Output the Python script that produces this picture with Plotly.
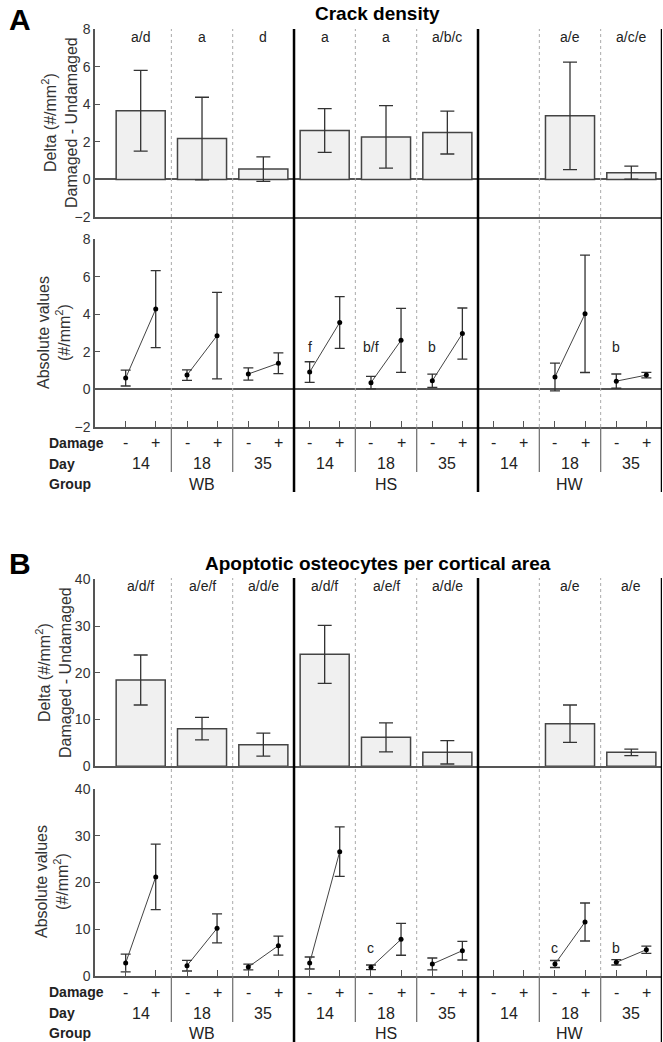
import plotly.graph_objects as go

# ---------------- data ----------------
slots = ["WB14", "WB18", "WB35", "HS14", "HS18", "HS35", "HW14", "HW18", "HW35"]
day_labels = ["14", "18", "35", "14", "18", "35", "14", "18", "35"]
group_labels = ["WB", "HS", "HW"]
damage_labels = ["-", "+"]

crack_delta = [3.65, 2.17, 0.55, 2.60, 2.26, 2.49, None, 3.38, 0.36]
crack_delta_err = [2.15, 2.20, 0.65, 1.16, 1.66, 1.14, None, 2.86, 0.35]
crack_undam = [0.60, 0.76, 0.82, 0.92, 0.36, 0.46, None, 0.66, 0.44]
crack_undam_err = [0.42, 0.28, 0.33, 0.55, 0.33, 0.35, None, 0.74, 0.38]
crack_dam = [4.27, 2.86, 1.39, 3.56, 2.61, 2.97, None, 4.02, 0.76]
crack_dam_err = [2.05, 2.30, 0.55, 1.38, 1.70, 1.36, None, 3.12, 0.15]
crack_top_letters = ["a/d", "a", "d", "a", "a", "a/b/c", "", "a/e", "a/c/e"]
crack_low_letters = ["", "", "", "f", "b/f", "b", "", "", "b"]

apo_delta = [18.46, 8.05, 4.63, 23.95, 6.20, 2.99, None, 9.11, 2.99]
apo_delta_err = [5.35, 2.40, 2.46, 6.20, 3.10, 2.50, None, 4.00, 0.70]
apo_undam = [2.78, 2.21, 1.93, 2.78, 1.85, 2.57, None, 2.57, 2.92]
apo_undam_err = [1.90, 1.14, 0.60, 1.28, 0.50, 1.28, None, 0.75, 0.57]
apo_dam = [21.2, 10.2, 6.49, 26.6, 7.84, 5.42, None, 11.55, 5.63]
apo_dam_err = [7.00, 3.10, 2.03, 5.30, 3.40, 2.00, None, 4.06, 0.78]
apo_top_letters = ["a/d/f", "a/e/f", "a/d/e", "a/d/f", "a/e/f", "a/d/e", "", "a/e", "a/e"]
apo_low_letters = ["", "", "", "", "c", "", "", "c", "b"]

# ---------------- layout helpers ----------------
W, H = 663, 1042
FONT = "Liberation Sans, Arial, Helvetica, sans-serif"
OFF = 0.245  # offset of -/+ points from slot centre (slot units)
centers = [i + 0.5 for i in range(len(slots))]
pt_x = []
for c in centers:
    pt_x += [c - OFF, c + OFF]


def py(px):
    return 1 - px / H


def px_x(px):
    return px / W


XDOM = [px_x(95), px_x(662)]
XRANGE = [-OFF, 9]
AXC = "#555555"
TXT = "#222222"

fig = go.Figure()

panels = [
    dict(delta=crack_delta, derr=crack_delta_err, und=crack_undam, uerr=crack_undam_err,
         dam=crack_dam, damerr=crack_dam_err, top=crack_top_letters, low=crack_low_letters,
         xa="x", ya="y", xb="x2", yb="y2", cap_top=7, cap_low=5),
    dict(delta=apo_delta, derr=apo_delta_err, und=apo_undam, uerr=apo_undam_err,
         dam=apo_dam, damerr=apo_dam_err, top=apo_top_letters, low=apo_low_letters,
         xa="x3", ya="y3", xb="x4", yb="y4", cap_top=7, cap_low=5),
]

for p in panels:
    fig.add_trace(go.Bar(
        x=centers, y=p["delta"], width=0.8,
        marker=dict(color="#f0f0f0", line=dict(color="#444444", width=1.5)),
        error_y=dict(type="data", array=p["derr"], color="#333333", thickness=1.3, width=p["cap_top"]),
        xaxis=p["xa"], yaxis=p["ya"], showlegend=False, hoverinfo="skip"))
    for i, c in enumerate(centers):
        if p["und"][i] is None:
            continue
        fig.add_trace(go.Scatter(
            x=[c - OFF, c + OFF], y=[p["und"][i], p["dam"][i]],
            mode="lines+markers",
            line=dict(color="#444444", width=1),
            marker=dict(color="black", size=5),
            error_y=dict(type="data", array=[p["uerr"][i], p["damerr"][i]],
                         color="#333333", thickness=1.3, width=p["cap_low"]),
            xaxis=p["xb"], yaxis=p["yb"], showlegend=False, hoverinfo="skip"))


def xaxis(dom_anchor, ticks):
    d = dict(domain=XDOM, range=XRANGE, anchor=dom_anchor, showgrid=False, zeroline=False,
             showline=True, linecolor=AXC, linewidth=1.5, fixedrange=True, showticklabels=False)
    if ticks:
        d.update(tickvals=pt_x, ticks="inside", ticklen=6, tickcolor=AXC, tickwidth=1.2)
    else:
        d.update(ticks="")
    return d


def yaxis(anchor, dom_px, rng, tickvals, zero):
    return dict(domain=[py(dom_px[1]), py(dom_px[0])], range=rng, anchor=anchor,
                tickvals=tickvals, ticks="inside", ticklen=5, tickcolor=AXC, tickwidth=1.2,
                showline=True, linecolor=AXC, linewidth=1.5, showgrid=False,
                zeroline=zero, zerolinecolor=AXC, zerolinewidth=1.5,
                tickfont=dict(size=14, color="#333333", family=FONT), fixedrange=True)


fig.update_layout(
    xaxis=xaxis("y", False), xaxis2=xaxis("y2", True),
    xaxis3=xaxis("y3", False), xaxis4=xaxis("y4", True),
    yaxis=yaxis("x", (29, 217), [-2, 8], [-2, 0, 2, 4, 6, 8], True),
    yaxis2=yaxis("x2", (239, 427), [-2, 8], [-2, 0, 2, 4, 6, 8], True),
    yaxis3=yaxis("x3", (579.3, 766.3), [0, 40], [0, 10, 20, 30, 40], False),
    yaxis4=yaxis("x4", (789, 976), [0, 40], [0, 10, 20, 30, 40], False),
)

shapes = []
annotations = []


def ann(x, y, text, size, xref="paper", yref="paper", xanchor="center", color=TXT, angle=0):
    annotations.append(dict(x=x, y=y, xref=xref, yref=yref, text=text, showarrow=False,
                            xanchor=xanchor, yanchor="middle", textangle=angle,
                            font=dict(size=size, color=color, family=FONT)))


panel_px = [
    dict(top=29, bot=427, lab_bot=472, thick_bot=492, top_let=37, low_let=347,
         rows=(443, 464, 484), title="Crack density", title_y=13, letter="A", letter_y=20,
         ytitles=[(59, 123, "Delta (#/mm<sup>2</sup>)<br>Damaged - Undamaged"),
                  (54, 333, "Absolute values<br>(#/mm<sup>2</sup>)")]),
    dict(top=578, bot=976, lab_bot=1022, thick_bot=1042, top_let=586, low_let=947.5,
         rows=(992, 1013, 1033), title="Apoptotic osteocytes per cortical area", title_y=563,
         letter="B", letter_y=563,
         ytitles=[(53, 672, "Delta (#/mm<sup>2</sup>)<br>Damaged - Undamaged"),
                  (52, 882, "Absolute values<br>(#/mm<sup>2</sup>)")]),
]

for k, pp in enumerate(panel_px):
    p = panels[k]
    for b in [1, 2, 4, 5, 7, 8]:
        shapes.append(dict(type="line", xref="x", yref="paper", x0=b, x1=b,
                           y0=py(pp["bot"]), y1=py(pp["top"]),
                           line=dict(color="#aaaaaa", width=1, dash="dot")))
        shapes.append(dict(type="line", xref="x", yref="paper", x0=b, x1=b,
                           y0=py(pp["lab_bot"]), y1=py(pp["bot"]),
                           line=dict(color="#777777", width=1.3)))
    for b in [3, 6, 9]:
        shapes.append(dict(type="line", xref="x", yref="paper", x0=b, x1=b,
                           y0=py(pp["thick_bot"]), y1=py(pp["top"]),
                           line=dict(color="black", width=2.5)))
    for i, c in enumerate(centers):
        if p["top"][i]:
            ann(c, py(pp["top_let"]), p["top"][i], 14, xref="x")
        if p["low"][i]:
            ann(c - OFF, py(pp["low_let"]), p["low"][i], 14, xref="x")
        for j, s in enumerate(damage_labels):
            ann(c - OFF if j == 0 else c + OFF, py(pp["rows"][0]), s, 16, xref="x")
        ann(c, py(pp["rows"][1]), day_labels[i], 16, xref="x")
    for g, name in enumerate(group_labels):
        ann(3 * g + 1.5, py(pp["rows"][2]), name, 16, xref="x")
    for r, lab in enumerate(["Damage", "Day", "Group"]):
        ann(px_x(47), py(pp["rows"][r]), "<b>" + lab + "</b>", 14, xanchor="left")
    ann(px_x(377.5), py(pp["title_y"]), "<b>" + pp["title"] + "</b>", 19, color="black")
    ann(px_x(20), py(pp["letter_y"]), "<b>" + pp["letter"] + "</b>", 30, color="black")
    for (xx, yy, t) in pp["ytitles"]:
        ann(px_x(xx), py(yy), t, 16, color="#333333", angle=-90)

fig.update_layout(
    width=W, height=H, margin=dict(l=0, r=0, t=0, b=0, autoexpand=False),
    paper_bgcolor="white", plot_bgcolor="white",
    shapes=shapes, annotations=annotations, showlegend=False,
    font=dict(family=FONT, color=TXT),
)

fig.write_html("out.html", config={"displayModeBar": False},
               post_script="document.body.style.margin='0px';")
